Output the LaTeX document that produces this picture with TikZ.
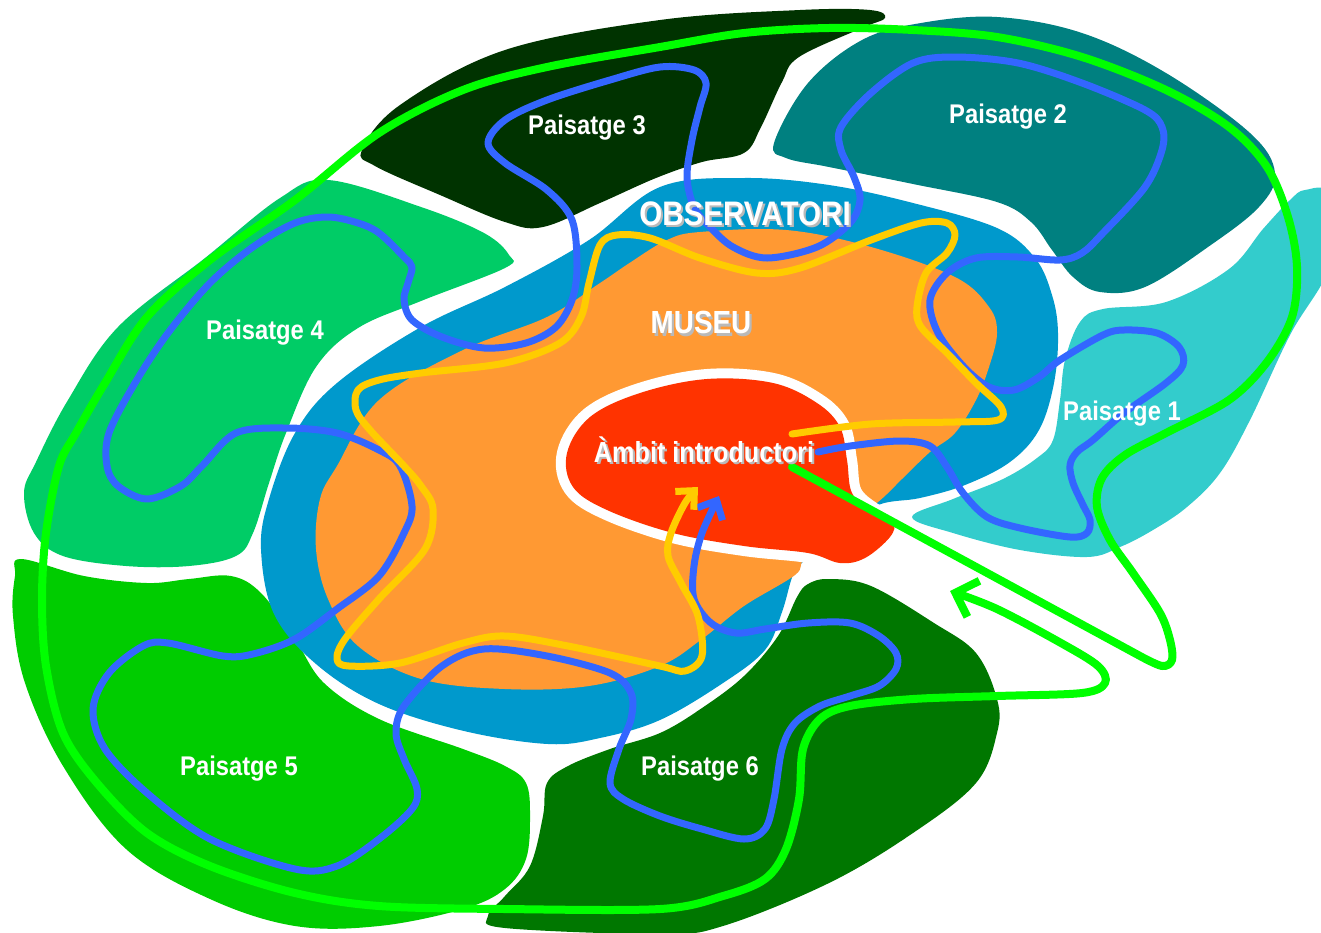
\documentclass[tikz,border=0pt]{standalone}
\usepackage{fontspec}
\setmainfont{Liberation Sans}
\usetikzlibrary{arrows.meta}
\definecolor{pthree}{HTML}{003300}
\definecolor{ptwo}{HTML}{008080}
\definecolor{pone}{HTML}{33CCCC}
\definecolor{pfour}{HTML}{00CC66}
\definecolor{pfive}{HTML}{00CC00}
\definecolor{psix}{HTML}{007700}
\definecolor{obs}{HTML}{0099CC}
\definecolor{museu}{HTML}{FF9933}
\definecolor{ambit}{HTML}{FF3300}
\definecolor{lblue}{HTML}{3366FF}
\definecolor{lyellow}{HTML}{FFCC00}
\definecolor{lgreen}{HTML}{00FF00}
\newcommand{\shtext}[1]{\makebox[0pt][l]{\kern2.5bp\raisebox{-2.5bp}{\color{gray!55}#1}}#1}
\tikzset{
  area/.style={smooth cycle, tension=0.6},
  route/.style={line width=7bp, line cap=round, line join=round},
  plabel/.style={text=white, inner sep=0, font=\bfseries\fontsize{27bp}{30bp}\selectfont, xscale=0.88},
  biglabel/.style={text=white, inner sep=0, font=\bfseries\fontsize{#1}{#1}\selectfont, xscale=0.87},
}
\begin{document}
\begin{tikzpicture}[x=1bp,y=-1bp]
\useasboundingbox (0,0) rectangle (1321,932);
% Paisatge 3
\fill[pthree] plot[area] coordinates {(362,150) (400,105) (505,50) (660,20) (800,10) (870,10) (885,18) (862,28) (799,57) (782,82) (761,127) (744,153) (702,162) (656,178) (600,203) (543,227) (505,222) (440,195) (375,166)};
% Paisatge 2
\fill[ptwo] plot[area] coordinates {(774,143) (808,83) (862,40) (921,23) (997,17) (1082,33) (1166,73) (1250,133) (1275,173) (1259,207) (1208,247) (1145,287) (1100,292) (1073,277) (1052,250) (1031,222) (997,202) (913,184) (829,167) (786,158)};
% Paisatge 1
\fill[pone] plot[area] coordinates {(1305,190) (1330,195) (1330,265) (1290,335) (1250,420) (1220,473) (1187,507) (1153,530) (1120,547) (1087,557) (1020,550) (953,533) (912,517) (953,499) (1003,479) (1037,458) (1053,440) (1060,400) (1065,360) (1080,322) (1103,309) (1166,302) (1229,269) (1263,229) (1290,200)};
% Paisatge 4
\fill[pfour] plot[area] coordinates {(328,180) (421,207) (484,233) (509,255) (505,268) (421,301) (358,328) (316,367) (286,433) (269,483) (253,533) (236,556) (189,566) (126,566) (63,556) (34,533) (24,493) (36,462) (68,400) (118,327) (205,258) (280,198)};
% Paisatge 5
\fill[pfive] plot[area] coordinates {(21,559) (84,576) (147,583) (189,579) (231,576) (261,593) (295,639) (324,683) (379,719) (463,749) (505,766) (526,783) (530,816) (526,859) (505,889) (463,909) (379,926) (295,926) (210,899) (126,849) (63,766) (25,683) (13,616) (15,576)};
% Paisatge 6
\fill[psix] plot[area] coordinates {(829,579) (871,586) (934,623) (976,653) (997,699) (997,733) (976,783) (913,833) (829,883) (723,926) (660,934) (505,928) (488,916) (505,896) (530,866) (543,816) (547,783) (568,766) (610,749) (660,733) (702,708) (744,676) (778,636) (797,597) (808,584)};
% Observatori
\fill[obs] plot[area] coordinates {(660,187) (744,178) (829,185) (913,203) (997,228) (1035,258) (1052,295) (1058,333) (1054,383) (1039,430) (1010,462) (965,485) (920,498) (878,505) (840,530) (805,560) (793,575) (782,612) (765,650) (723,683) (660,720) (600,738) (548,744) (464,731) (379,704) (316,664) (274,614) (261,549) (269,499) (295,433) (337,383) (421,327) (505,287) (589,240)};
% Museu
\fill[museu] plot[area] coordinates {(631,262) (667,240) (700,232) (786,230) (871,247) (955,277) (989,307) (997,333) (989,367) (976,400) (955,433) (930,452) (903,478) (878,502) (845,525) (805,558) (795,575) (744,606) (702,639) (660,666) (589,686) (505,689) (421,679) (358,646) (328,599) (316,549) (320,499) (337,466) (379,400) (463,350) (547,317) (600,283)};
% Ambit
\def\ambitpath{plot[area] coordinates {(567,453) (590,417) (640,393) (707,379) (773,383) (817,403) (840,427) (847,460) (852,493) (872,512) (893,522) (890,537) (865,558) (840,563) (808,553) (744,546) (673,533) (607,510) (573,487)}}
\draw[white, line width=20bp, line join=round] \ambitpath;
\fill[ambit] \ambitpath;
% blue route
\draw[route, lblue, -{Straight Barb[length=15bp,width=28bp]}] plot[smooth, tension=0.55] coordinates {(818,452) (850,446) (900,441) (930,446) (947,467) (963,493) (987,517) (1020,528) (1070,537) (1087,533) (1090,520) (1083,505) (1073,483) (1070,465) (1077,452) (1093,440) (1124,413) (1166,383) (1183,365) (1179,347) (1157,333) (1124,330) (1103,335) (1060,360) (1039,377) (1014,390) (989,387) (964,367) (938,333) (930,300) (947,273) (976,258) (1018,257) (1060,260) (1082,253) (1103,233) (1145,187) (1162,150) (1162,127) (1145,110) (1082,83) (1018,63) (955,57) (913,63) (871,93) (841,127) (841,150) (854,177) (860,200) (850,223) (817,247) (767,258) (733,247) (710,227) (694,207) (687,177) (692,140) (700,107) (706,83) (694,70) (660,67) (610,80) (547,100) (505,120) (488,143) (505,163) (547,190) (572,220) (577,267) (572,300) (556,327) (526,343) (484,348) (442,337) (412,320) (404,300) (408,283) (412,267) (404,257) (379,233) (358,223) (328,217) (295,223) (253,247) (210,283) (168,333) (135,383) (109,433) (107,466) (118,486) (147,499) (181,486) (202,466) (236,433) (286,428) (337,433) (379,450) (400,466) (412,506) (404,533) (379,576) (337,609) (295,639) (253,654) (223,656) (168,643) (143,646) (109,673) (93,709) (105,749) (147,793) (210,839) (295,869) (337,866) (379,839) (412,809) (417,789) (404,759) (396,733) (404,706) (442,666) (484,649) (547,656) (610,673) (631,693) (631,719) (619,749) (610,783) (623,799) (660,816) (702,829) (744,839) (765,829) (774,799) (782,749) (795,723) (820,706) (850,696) (879,686) (896,669) (896,653) (879,636) (850,623) (808,623) (765,629) (736,633) (711,623) (694,599) (694,566) (702,533) (719,496)};
% yellow route
\draw[route, lyellow, -{Straight Barb[length=14bp,width=26bp]}] plot[smooth, tension=0.55] coordinates {(792,434) (871,424) (955,422) (998,420) (1001,407) (976,383) (947,353) (921,327) (917,307) (926,273) (947,253) (955,235) (947,223) (921,223) (871,240) (800,268) (757,273) (700,258) (650,238) (617,235) (600,245) (589,283) (581,317) (560,343) (505,363) (421,373) (379,380) (358,390) (356,410) (370,430) (404,466) (421,486) (433,509) (425,549) (379,599) (345,639) (337,659) (349,666) (400,663) (463,643) (505,636) (568,646) (660,666) (685,671) (702,656) (698,616) (681,583) (668,556) (671,533) (685,503) (698,487)};
% green route
\draw[route, line width=8bp, lgreen, -{Straight Barb[length=19bp,width=38bp]}] (792,467) -- plot[smooth, tension=0.55] coordinates {(1140,656) (1162,666) (1172,660) (1170,640) (1160,613) (1133,573) (1110,540) (1097,507) (1102,478) (1125,455) (1166,433) (1229,400) (1267,362) (1292,317) (1297,267) (1288,217) (1267,167) (1229,127) (1166,90) (1082,57) (997,37) (913,30) (829,28) (744,33) (660,47) (547,67) (463,90) (379,133) (295,200) (210,260) (147,317) (105,383) (76,433) (59,466) (46,533) (42,599) (46,666) (63,733) (97,783) (147,833) (210,866) (295,893) (379,906) (505,909) (660,909) (723,896) (765,879) (786,849) (799,799) (803,749) (820,719) (850,706) (913,699) (997,696) (1082,693) (1105,683) (1098,666) (1061,643) (997,609) (950,591)};
% labels
\node[plabel] (p3) at (587,128) {Paisatge 3};
\node[plabel] (p2) at (1008,117) {Paisatge 2};
\node[plabel] (p4) at (265,333) {Paisatge 4};
\node[plabel] (p1) at (1122,414) {Paisatge 1};
\node[plabel] (p5) at (239,769) {Paisatge 5};
\node[plabel] (p6) at (700,769) {Paisatge 6};
\node[biglabel=34bp] (obsL) at (745,215) {\shtext{OBSERVATORI}};
\node[biglabel=32bp] (musL) at (701,324) {\shtext{MUSEU}};
\node[biglabel=29bp] (ambL) at (704,451) {\shtext{Àmbit introductori}};
\end{tikzpicture}
\end{document}
